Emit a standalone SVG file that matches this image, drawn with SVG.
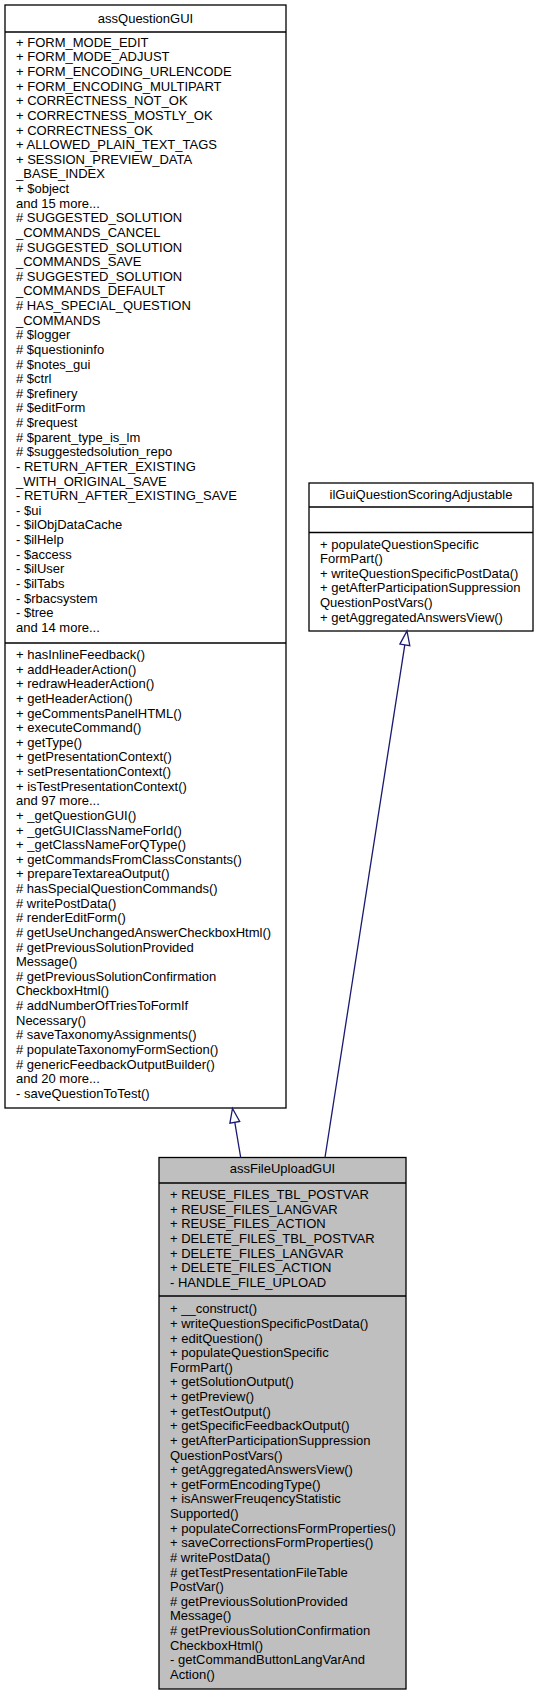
<svg xmlns="http://www.w3.org/2000/svg" width="539" height="1695" viewBox="0 0 539 1695">
<style>
.box{fill:#ffffff;stroke:#000000;stroke-width:1.3}
.gray{fill:#bfbfbf}
.sep{stroke:#000000;stroke-width:1.3}
text{font-family:"Liberation Sans",Arial,Helvetica,sans-serif;font-size:13px;fill:#000000}
.t{text-anchor:middle}
.edge{fill:none;stroke:#191970;stroke-width:1.3}
.head{fill:#ffffff;stroke:#191970;stroke-width:1.3}
</style>
<rect width="539" height="1695" fill="#ffffff"/>
<g id="assQuestionGUI">
<rect class="box" x="5" y="5" width="281" height="1103"/>
<line class="sep" x1="5" y1="32" x2="286" y2="32"/>
<line class="sep" x1="5" y1="643" x2="286" y2="643"/>
<text class="t" x="145.5" y="23">assQuestionGUI</text>
<text x="16" y="46.7">+ FORM_MODE_EDIT</text>
<text x="16" y="61.3">+ FORM_MODE_ADJUST</text>
<text x="16" y="75.9">+ FORM_ENCODING_URLENCODE</text>
<text x="16" y="90.6">+ FORM_ENCODING_MULTIPART</text>
<text x="16" y="105.2">+ CORRECTNESS_NOT_OK</text>
<text x="16" y="119.8">+ CORRECTNESS_MOSTLY_OK</text>
<text x="16" y="134.5">+ CORRECTNESS_OK</text>
<text x="16" y="149.1">+ ALLOWED_PLAIN_TEXT_TAGS</text>
<text x="16" y="163.7">+ SESSION_PREVIEW_DATA</text>
<text x="16" y="178.3">_BASE_INDEX</text>
<text x="16" y="193.0">+ $object</text>
<text x="16" y="207.6">and 15 more...</text>
<text x="16" y="222.2"># SUGGESTED_SOLUTION</text>
<text x="16" y="236.8">_COMMANDS_CANCEL</text>
<text x="16" y="251.5"># SUGGESTED_SOLUTION</text>
<text x="16" y="266.1">_COMMANDS_SAVE</text>
<text x="16" y="280.7"># SUGGESTED_SOLUTION</text>
<text x="16" y="295.3">_COMMANDS_DEFAULT</text>
<text x="16" y="310.0"># HAS_SPECIAL_QUESTION</text>
<text x="16" y="324.6">_COMMANDS</text>
<text x="16" y="339.2"># $logger</text>
<text x="16" y="353.8"># $questioninfo</text>
<text x="16" y="368.5"># $notes_gui</text>
<text x="16" y="383.1"># $ctrl</text>
<text x="16" y="397.7"># $refinery</text>
<text x="16" y="412.3"># $editForm</text>
<text x="16" y="427.0"># $request</text>
<text x="16" y="441.6"># $parent_type_is_lm</text>
<text x="16" y="456.2"># $suggestedsolution_repo</text>
<text x="16" y="470.8">- RETURN_AFTER_EXISTING</text>
<text x="16" y="485.5">_WITH_ORIGINAL_SAVE</text>
<text x="16" y="500.1">- RETURN_AFTER_EXISTING_SAVE</text>
<text x="16" y="514.7">- $ui</text>
<text x="16" y="529.3">- $ilObjDataCache</text>
<text x="16" y="544.0">- $ilHelp</text>
<text x="16" y="558.6">- $access</text>
<text x="16" y="573.2">- $ilUser</text>
<text x="16" y="587.8">- $ilTabs</text>
<text x="16" y="602.5">- $rbacsystem</text>
<text x="16" y="617.1">- $tree</text>
<text x="16" y="631.7">and 14 more...</text>
<text x="16" y="659.0">+ hasInlineFeedback()</text>
<text x="16" y="673.6">+ addHeaderAction()</text>
<text x="16" y="688.3">+ redrawHeaderAction()</text>
<text x="16" y="702.9">+ getHeaderAction()</text>
<text x="16" y="717.5">+ geCommentsPanelHTML()</text>
<text x="16" y="732.1">+ executeCommand()</text>
<text x="16" y="746.8">+ getType()</text>
<text x="16" y="761.4">+ getPresentationContext()</text>
<text x="16" y="776.0">+ setPresentationContext()</text>
<text x="16" y="790.6">+ isTestPresentationContext()</text>
<text x="16" y="805.3">and 97 more...</text>
<text x="16" y="819.9">+ _getQuestionGUI()</text>
<text x="16" y="834.5">+ _getGUIClassNameForId()</text>
<text x="16" y="849.1">+ _getClassNameForQType()</text>
<text x="16" y="863.8">+ getCommandsFromClassConstants()</text>
<text x="16" y="878.4">+ prepareTextareaOutput()</text>
<text x="16" y="893.0"># hasSpecialQuestionCommands()</text>
<text x="16" y="907.6"># writePostData()</text>
<text x="16" y="922.3"># renderEditForm()</text>
<text x="16" y="936.9"># getUseUnchangedAnswerCheckboxHtml()</text>
<text x="16" y="951.5"># getPreviousSolutionProvided</text>
<text x="16" y="966.1">Message()</text>
<text x="16" y="980.8"># getPreviousSolutionConfirmation</text>
<text x="16" y="995.4">CheckboxHtml()</text>
<text x="16" y="1010.0"># addNumberOfTriesToFormIf</text>
<text x="16" y="1024.6">Necessary()</text>
<text x="16" y="1039.3"># saveTaxonomyAssignments()</text>
<text x="16" y="1053.9"># populateTaxonomyFormSection()</text>
<text x="16" y="1068.5"># genericFeedbackOutputBuilder()</text>
<text x="16" y="1083.1">and 20 more...</text>
<text x="16" y="1097.8">- saveQuestionToTest()</text>
</g>
<g id="ilGuiQuestionScoringAdjustable">
<rect class="box" x="309" y="483" width="224" height="148"/>
<line class="sep" x1="309" y1="507" x2="533" y2="507"/>
<line class="sep" x1="309" y1="532.5" x2="533" y2="532.5"/>
<text class="t" x="421" y="499">ilGuiQuestionScoringAdjustable</text>
<text x="320" y="548.5">+ populateQuestionSpecific</text>
<text x="320" y="563.1">FormPart()</text>
<text x="320" y="577.8">+ writeQuestionSpecificPostData()</text>
<text x="320" y="592.4">+ getAfterParticipationSuppression</text>
<text x="320" y="607.0">QuestionPostVars()</text>
<text x="320" y="621.6">+ getAggregatedAnswersView()</text>
</g>
<g id="assFileUploadGUI">
<rect class="box gray" x="159" y="1157.5" width="247" height="531.5"/>
<line class="sep" x1="159" y1="1183" x2="406" y2="1183"/>
<line class="sep" x1="159" y1="1296" x2="406" y2="1296"/>
<text class="t" x="282.5" y="1172.5">assFileUploadGUI</text>
<text x="170" y="1199.0">+ REUSE_FILES_TBL_POSTVAR</text>
<text x="170" y="1213.6">+ REUSE_FILES_LANGVAR</text>
<text x="170" y="1228.3">+ REUSE_FILES_ACTION</text>
<text x="170" y="1242.9">+ DELETE_FILES_TBL_POSTVAR</text>
<text x="170" y="1257.5">+ DELETE_FILES_LANGVAR</text>
<text x="170" y="1272.1">+ DELETE_FILES_ACTION</text>
<text x="170" y="1286.8">- HANDLE_FILE_UPLOAD</text>
<text x="170" y="1313.3">+ __construct()</text>
<text x="170" y="1327.9">+ writeQuestionSpecificPostData()</text>
<text x="170" y="1342.6">+ editQuestion()</text>
<text x="170" y="1357.2">+ populateQuestionSpecific</text>
<text x="170" y="1371.8">FormPart()</text>
<text x="170" y="1386.4">+ getSolutionOutput()</text>
<text x="170" y="1401.1">+ getPreview()</text>
<text x="170" y="1415.7">+ getTestOutput()</text>
<text x="170" y="1430.3">+ getSpecificFeedbackOutput()</text>
<text x="170" y="1444.9">+ getAfterParticipationSuppression</text>
<text x="170" y="1459.6">QuestionPostVars()</text>
<text x="170" y="1474.2">+ getAggregatedAnswersView()</text>
<text x="170" y="1488.8">+ getFormEncodingType()</text>
<text x="170" y="1503.4">+ isAnswerFreuqencyStatistic</text>
<text x="170" y="1518.1">Supported()</text>
<text x="170" y="1532.7">+ populateCorrectionsFormProperties()</text>
<text x="170" y="1547.3">+ saveCorrectionsFormProperties()</text>
<text x="170" y="1561.9"># writePostData()</text>
<text x="170" y="1576.6"># getTestPresentationFileTable</text>
<text x="170" y="1591.2">PostVar()</text>
<text x="170" y="1605.8"># getPreviousSolutionProvided</text>
<text x="170" y="1620.4">Message()</text>
<text x="170" y="1635.1"># getPreviousSolutionConfirmation</text>
<text x="170" y="1649.7">CheckboxHtml()</text>
<text x="170" y="1664.3">- getCommandButtonLangVarAnd</text>
<text x="170" y="1678.9">Action()</text>
</g>
<g id="connectors">
<path class="edge" d="M240.7,1157.5 L234.8,1122.3"/>
<polygon class="head" points="232.5,1108.5 239.7,1121.5 229.9,1123.1"/>
<path class="edge" d="M325,1157.5 L404.8,644.8"/>
<polygon class="head" points="407,631 409.8,645.6 399.9,644.1"/>
</g>
</svg>
